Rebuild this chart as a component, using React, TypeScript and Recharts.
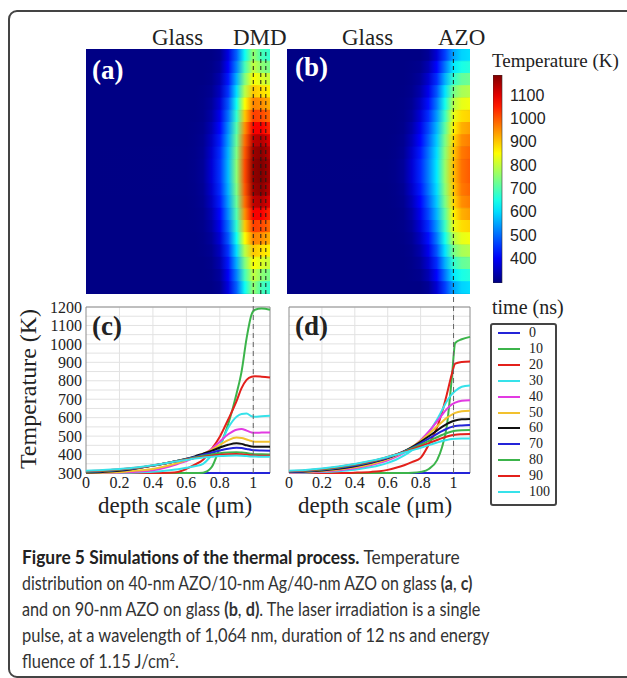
import React from 'react';
import {
  LineChart, Line, XAxis, YAxis, CartesianGrid, ReferenceLine, ReferenceArea,
  BarChart, Bar, Cell,
} from 'recharts';

// ---- profile data (temperature in K vs depth in µm) ----
const depth = [0, 0.1, 0.2, 0.3, 0.4, 0.5, 0.55, 0.6, 0.65, 0.7, 0.75, 0.8, 0.85, 0.9, 0.93, 0.96, 0.99, 1.01, 1.05, 1.1];

const times = ['0', '10', '20', '30', '40', '50', '60', '70', '80', '90', '100'];
const lineColors = ['#2424d8', '#3cb44b', '#e3201b', '#36e2ea', '#e23ae2', '#f2c12e', '#111111', '#2424d8', '#3cb44b', '#e3201b', '#36e2ea'];

// (c) 40-nm AZO / 10-nm Ag / 40-nm AZO on glass
const dmd0 = [300, 300, 300, 300, 300, 300, 300, 300, 300, 300, 300, 300, 300, 300, 300, 300, 300, 300, 300, 300];
const dmd10 = [300, 300, 300, 300, 300, 300, 300, 300, 300, 302, 330, 440, 565, 730, 850, 1030, 1160, 1185, 1192, 1185];
const dmd20 = [300, 300, 300, 300, 300, 302, 306, 322, 345, 372, 428, 497, 590, 690, 760, 805, 822, 824, 822, 818];
const dmd30 = [300, 300, 301, 303, 307, 315, 320, 328, 337, 350, 395, 450, 545, 605, 620, 622, 608, 605, 608, 610];
const dmd40 = [300, 301, 303, 307, 315, 335, 350, 365, 382, 400, 430, 470, 510, 535, 538, 530, 520, 518, 519, 520];
const dmd50 = [301, 302, 305, 313, 322, 342, 355, 370, 386, 403, 425, 452, 478, 492, 490, 482, 473, 470, 470, 470];
const dmd60 = [303, 306, 312, 325, 340, 357, 366, 377, 390, 405, 420, 438, 453, 461, 458, 450, 444, 442, 442, 442];
const dmd70 = [305, 309, 316, 326, 340, 357, 366, 376, 387, 399, 410, 422, 432, 437, 435, 430, 425, 423, 422, 421];
const dmd80 = [307, 311, 318, 327, 341, 357, 366, 375, 384, 393, 400, 407, 411, 413, 411, 408, 404, 402, 401, 400];
const dmd90 = [309, 313, 320, 328, 341, 357, 365, 373, 381, 388, 394, 399, 402, 403, 401, 399, 396, 395, 394, 394];
const dmd100 = [312, 316, 322, 330, 342, 357, 364, 371, 378, 384, 388, 392, 394, 395, 394, 392, 390, 389, 388, 388];

// (d) 90-nm AZO on glass
const azo0 = [300, 300, 300, 300, 300, 300, 300, 300, 300, 300, 300, 300, 300, 300, 300, 300, 300, 300, 300, 300];
const azo10 = [300, 300, 300, 300, 300, 300, 300, 300, 300, 300, 301, 306, 322, 370, 440, 560, 820, 1005, 1025, 1038];
const azo20 = [300, 300, 300, 300, 302, 306, 310, 317, 328, 342, 360, 382, 455, 547, 629, 729, 838, 893, 902, 905];
const azo30 = [301, 302, 305, 310, 318, 332, 342, 355, 372, 395, 425, 465, 520, 590, 640, 690, 728, 745, 768, 775];
const azo40 = [302, 304, 308, 315, 326, 343, 355, 369, 387, 410, 440, 478, 525, 580, 615, 648, 672, 682, 692, 695];
const azo50 = [304, 306, 311, 319, 331, 349, 361, 376, 394, 416, 443, 475, 512, 553, 577, 600, 617, 626, 635, 638];
const azo60 = [305, 308, 314, 323, 336, 355, 367, 381, 398, 418, 442, 469, 499, 531, 550, 566, 579, 585, 591, 593];
const azo70 = [307, 310, 317, 327, 340, 358, 370, 383, 399, 417, 438, 461, 486, 512, 527, 540, 550, 555, 558, 560];
const azo80 = [308, 312, 319, 330, 344, 362, 373, 386, 400, 416, 434, 453, 474, 494, 506, 517, 525, 529, 532, 533];
const azo90 = [310, 314, 322, 333, 347, 364, 375, 387, 400, 414, 429, 445, 462, 479, 489, 498, 505, 508, 510, 511];
const azo100 = [312, 316, 324, 335, 349, 366, 376, 387, 399, 411, 424, 437, 451, 465, 473, 479, 484, 486, 487, 487];

const dmdSeries = [dmd0, dmd10, dmd20, dmd30, dmd40, dmd50, dmd60, dmd70, dmd80, dmd90, dmd100];
const azoSeries = [azo0, azo10, azo20, azo30, azo40, azo50, azo60, azo70, azo80, azo90, azo100];

const xTicks = [0, 0.2, 0.4, 0.6, 0.8, 1];
const yTicks = [300, 350, 400, 450, 500, 550, 600, 650, 700, 750, 800, 850, 900, 950, 1000, 1050, 1100, 1150, 1200];

// ---- temperature maps: rows from the top edge to the centre, columns at heatDepth ----
const heatDepth = [0, 0.6, 0.65, 0.7, 0.75, 0.8, 0.85, 0.9, 0.95, 1.0, 1.05, 1.1];
const mapDmdHalf = [
  [300, 300, 300, 300, 300, 310, 380, 490, 640, 760, 690, 670],
  [300, 300, 300, 300, 302, 320, 400, 520, 690, 800, 750, 730],
  [300, 300, 300, 300, 305, 335, 425, 560, 740, 850, 820, 800],
  [300, 300, 300, 302, 310, 350, 450, 600, 790, 900, 880, 860],
  [300, 300, 300, 303, 318, 370, 480, 640, 850, 960, 950, 920],
  [300, 300, 301, 305, 328, 390, 505, 670, 900, 1020, 1010, 980],
  [300, 300, 302, 308, 340, 410, 530, 700, 950, 1080, 1080, 1040],
  [300, 300, 303, 311, 352, 428, 548, 720, 980, 1130, 1140, 1100],
  [300, 301, 304, 314, 362, 442, 562, 738, 1000, 1160, 1175, 1135],
  [300, 301, 305, 316, 370, 450, 570, 750, 1010, 1170, 1185, 1150],
];
const mapAzoHalf = [
  [300, 300, 300, 300, 300, 300, 315, 370, 460, 550, 590, 600],
  [300, 300, 300, 300, 302, 308, 340, 410, 510, 610, 650, 660],
  [300, 300, 300, 300, 304, 318, 365, 445, 560, 670, 715, 725],
  [300, 300, 300, 301, 307, 332, 390, 480, 605, 730, 775, 785],
  [300, 300, 300, 302, 312, 350, 418, 512, 645, 785, 830, 840],
  [300, 300, 301, 304, 320, 370, 445, 540, 680, 830, 880, 890],
  [300, 300, 301, 306, 332, 390, 470, 565, 710, 860, 920, 935],
  [300, 300, 302, 309, 345, 408, 490, 585, 735, 882, 950, 965],
  [300, 300, 303, 313, 358, 425, 508, 600, 750, 897, 968, 985],
  [300, 301, 305, 318, 368, 438, 518, 610, 760, 905, 975, 995],
];
const dmdLayers = [1.0, 1.045, 1.075];
const azoLayers = [1.0];

const cbMin = 295;
const cbMax = 1185;
const cbTicks = [400, 500, 600, 700, 800, 900, 1000, 1100];
const cbLevels = [295, 350, 400, 450, 500, 550, 600, 650, 700, 750, 800, 850, 900, 950, 1000, 1050, 1100, 1150, 1185];

const serif = '"Liberation Serif", "Times New Roman", serif';
const sans = '"Liberation Sans", Arial, sans-serif';

function jet(t: number) {
  const v = Math.max(0, Math.min(1, (t - cbMin) / (cbMax - cbMin)));
  const f = (k: number) => Math.round(255 * Math.max(0, Math.min(1, 1.5 - Math.abs(4 * v - k))));
  return `rgb(${f(3)},${f(2)},${f(1)})`;
}

function buildRows(series: number[][]) {
  return depth.map((x, i) => {
    const row: any = { x };
    series.forEach((s, k) => { row['t' + times[k]] = s[i]; });
    return row;
  });
}

function Txt({ x, base, size, children, bold, color, family }: any) {
  return (
    <div style={{
      position: 'absolute', left: x, top: base - 0.837 * size, fontSize: size, lineHeight: 1,
      fontFamily: family || serif, fontWeight: bold ? 700 : 400, color: color || '#222', whiteSpace: 'nowrap',
    }}>{children}</div>
  );
}

function HeatMap({ id, half, layers, left, width }: any) {
  const rows = [...half, ...half.slice().reverse()];
  const data = rows.map((_: any, i: number) => ({ row: i, span: 1.1 }));
  return (
    <div style={{ position: 'absolute', left, top: 49, width, height: 245, background: jet(300) }}>
      <BarChart width={width} height={245} data={data} layout="vertical" barCategoryGap={0}
        margin={{ top: 0, right: 0, bottom: 0, left: 0 }}>
        <defs>
          {rows.map((r: number[], i: number) => (
            <linearGradient key={i} id={`${id}${i}`} x1="0" y1="0" x2="1" y2="0">
              {heatDepth.map((d, j) => <stop key={j} offset={d / 1.1} stopColor={jet(r[j])} />)}
            </linearGradient>
          ))}
        </defs>
        <XAxis type="number" domain={[0, 1.1]} hide />
        <YAxis type="category" dataKey="row" hide />
        <Bar dataKey="span" isAnimationActive={false}>
          {data.map((_: any, i: number) => <Cell key={i} fill={`url(#${id}${i})`} stroke={`url(#${id}${i})`} />)}
        </Bar>
        {layers.map((x: number) => (
          <ReferenceLine key={x} x={x} stroke="#1a1a1a" strokeWidth={1} strokeDasharray="4 3" />
        ))}
      </BarChart>
    </div>
  );
}

function Profiles({ series, left, width, showY }: any) {
  const data = buildRows(series);
  return (
    <div style={{ position: 'absolute', left, top: 285 }}>
      <LineChart width={width} height={218} data={data}
        margin={{ top: 22, right: 10, bottom: 0, left: showY ? 0 : 9 }}>
        <CartesianGrid stroke="#e2e2e2" horizontalValues={yTicks} verticalValues={[0.2, 0.4, 0.6, 0.8, 1]} />
        <XAxis type="number" dataKey="x" domain={[0, 1.1]} ticks={xTicks} height={30}
          axisLine={false} tickLine={false} tickSize={3} tickMargin={1}
          tick={{ fill: '#222', fontSize: 16, fontFamily: serif }}
          tickFormatter={(v: number) => String(v)} />
        <YAxis type="number" domain={[300, 1200]} ticks={yTicks} width={86} hide={!showY}
          axisLine={false} tickLine={false} tickSize={3} tickMargin={1} interval={0}
          tick={{ fill: '#222', fontSize: 16, fontFamily: serif }}
          tickFormatter={(v: number) => (v % 100 === 0 ? String(v) : '')} />
        <ReferenceArea x1={0} x2={1.1} y1={300} y2={1200} fill="none" stroke="#8c8c8c" strokeWidth={1} fillOpacity={0} />
        {series.map((_: number[], k: number) => (
          <Line key={k} type="monotone" dataKey={'t' + times[k]} stroke={lineColors[k]} strokeWidth={2}
            dot={false} isAnimationActive={false} />
        ))}
        <ReferenceLine segment={[{ x: 1, y: 300 }, { x: 1, y: 1275 }]} ifOverflow="visible"
          stroke="#666" strokeWidth={1} strokeDasharray="5 4" />
      </LineChart>
    </div>
  );
}

function ColorBar() {
  return (
    <div style={{ position: 'absolute', left: 493, top: 75 }}>
      <BarChart width={69} height={208} data={[{ name: 'cb', range: [cbMin, cbMax] }]} barCategoryGap={0}
        margin={{ top: 0, right: 0, bottom: 0, left: 0 }}>
        <defs>
          <linearGradient id="cbGrad" x1="0" y1="1" x2="0" y2="0">
            {cbLevels.map((t) => (
              <stop key={t} offset={(t - cbMin) / (cbMax - cbMin)} stopColor={jet(t)} />
            ))}
          </linearGradient>
        </defs>
        <XAxis dataKey="name" hide />
        <YAxis orientation="right" type="number" domain={[cbMin, cbMax]} ticks={cbTicks} width={60}
          axisLine={false} tickLine={false} tickSize={6} tickMargin={2}
          tick={{ fill: '#222', fontSize: 16, fontFamily: sans }} />
        <Bar dataKey="range" fill="url(#cbGrad)" stroke="#333" strokeWidth={0.6} isAnimationActive={false} />
      </BarChart>
    </div>
  );
}

function Legend() {
  return (
    <div style={{
      position: 'absolute', left: 490, top: 323, width: 63, height: 179,
      border: '2px solid #444', borderRadius: 3,
    }}>
      {times.map((t, i) => (
        <div key={t} style={{ position: 'absolute', left: 6, top: i * 15.9, height: 16, display: 'flex', alignItems: 'center' }}>
          <div style={{ width: 22, height: 2, background: lineColors[i] }} />
          <span style={{ marginLeft: 9, fontSize: 14, lineHeight: '16px', fontFamily: serif, color: '#222' }}>{t}</span>
        </div>
      ))}
    </div>
  );
}

function CapLine({ k, children }: any) {
  return (
    <div style={{
      fontFamily: 'Lato, "Open Sans", sans-serif', fontSize: 18.5, color: '#333', whiteSpace: 'nowrap',
      height: 26, transform: `scaleX(${k})`, transformOrigin: 'left center',
    }}>{children}</div>
  );
}

export default function App() {
  const axisTitle = { position: 'absolute' as const, width: 200, top: 513 - 0.837 * 23, textAlign: 'center' as const, fontFamily: serif, fontSize: 23, lineHeight: 1, color: '#222' };
  return (
    <div style={{ position: 'absolute', left: 0, top: 0, width: 627, height: 678, overflow: 'hidden', background: '#fff' }}>
      <div style={{ position: 'absolute', left: 8, top: 10, width: 700, height: 664, border: '2px solid #444', borderRadius: 9 }} />

      <Txt x={152} base={45} size={23}>Glass</Txt>
      <Txt x={233} base={45} size={23}>DMD</Txt>
      <Txt x={342} base={45} size={23}>Glass</Txt>
      <Txt x={438} base={45} size={23}>AZO</Txt>

      <HeatMap id="hmA" half={mapDmdHalf} layers={dmdLayers} left={86} width={184} />
      <HeatMap id="hmB" half={mapAzoHalf} layers={azoLayers} left={287} width={183} />
      <Txt x={92} base={80} size={27} bold color="#fff">(a)</Txt>
      <Txt x={295} base={77} size={27} bold color="#fff">(b)</Txt>

      <Txt x={492} base={67} size={19}>Temperature (K)</Txt>
      <ColorBar />

      <Profiles series={dmdSeries} left={0} width={280} showY />
      <Profiles series={azoSeries} left={280} width={200} showY={false} />
      <Txt x={92} base={336} size={27} bold>(c)</Txt>
      <Txt x={295} base={336} size={27} bold>(d)</Txt>

      <div style={{
        position: 'absolute', left: 28, top: 389, transform: 'translate(-50%, -50%) rotate(-90deg)',
        fontFamily: serif, fontSize: 24, lineHeight: 1, color: '#222', whiteSpace: 'nowrap',
      }}>Temperature (K)</div>
      <div style={{ ...axisTitle, left: 75 }}>depth scale (μm)</div>
      <div style={{ ...axisTitle, left: 275 }}>depth scale (μm)</div>

      <Txt x={492} base={314} size={20}>time (ns)</Txt>
      <Legend />

      <div style={{ position: 'absolute', left: 22, top: 544, lineHeight: '26px' }}>
        <CapLine k={0.938}><b style={{ color: '#222' }}>Figure 5 Simulations of the thermal process.</b> Temperature</CapLine>
        <CapLine k={0.86}>distribution on 40-nm AZO/10-nm Ag/40-nm AZO on glass <b>(a</b>, <b>c)</b></CapLine>
        <CapLine k={0.877}>and on 90-nm AZO on glass <b>(b</b>, <b>d)</b>. The laser irradiation is a single</CapLine>
        <CapLine k={0.89}>pulse, at a wavelength of 1,064 nm, duration of 12 ns and energy</CapLine>
        <CapLine k={0.89}>fluence of 1.15 J/cm<sup style={{ fontSize: 11, lineHeight: 0 }}>2</sup>.</CapLine>
      </div>
    </div>
  );
}
